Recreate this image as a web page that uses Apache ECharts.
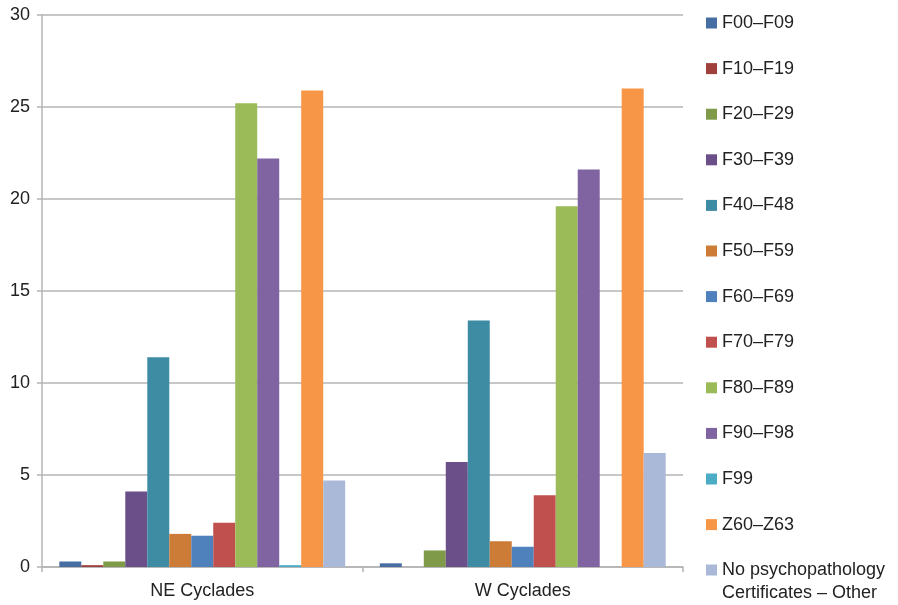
<!DOCTYPE html>
<html>
<head>
<meta charset="utf-8">
<script src="https://cdn.jsdelivr.net/npm/echarts@6/dist/echarts.min.js"></script>
<style>
  html, body { margin: 0; padding: 0; background: #fff; }
  #chart { width: 898px; height: 605px; }
</style>
</head>
<body>
<div id="chart"></div>
<script>
// Regions on the x axis
const regions = ['NE Cyclades', 'W Cyclades'];

// Diagnostic groups (legend order)
const groups = [
  'F00–F09', 'F10–F19', 'F20–F29', 'F30–F39', 'F40–F48', 'F50–F59',
  'F60–F69', 'F70–F79', 'F80–F89', 'F90–F98', 'F99', 'Z60–Z63',
  'No psychopathology Certificates – Other'
];

// Percentages per group: [NE Cyclades, W Cyclades]
const f00_f09 = [0.3, 0.2];
const f10_f19 = [0.1, 0.0];
const f20_f29 = [0.3, 0.9];
const f30_f39 = [4.1, 5.7];
const f40_f48 = [11.4, 13.4];
const f50_f59 = [1.8, 1.4];
const f60_f69 = [1.7, 1.1];
const f70_f79 = [2.4, 3.9];
const f80_f89 = [25.2, 19.6];
const f90_f98 = [22.2, 21.6];
const f99 = [0.1, 0.0];
const z60_z63 = [25.9, 26.0];
const noPsych = [4.7, 6.2];

const seriesValues = [
  f00_f09, f10_f19, f20_f29, f30_f39, f40_f48, f50_f59,
  f60_f69, f70_f79, f80_f89, f90_f98, f99, z60_z63, noPsych
];

// Y axis ticks
const yTicks = [0, 5, 10, 15, 20, 25, 30];

const colors = [
  '#466EA3', '#9F403D', '#7F9A48', '#6A4F89', '#3D8CA3', '#CD7C37',
  '#4F81BD', '#C0504D', '#9BBB59', '#8064A2', '#4BACC6', '#F79646',
  '#AAB9D7'
];

const FONT = '"Liberation Sans", Arial, Helvetica, sans-serif';
const gridGray = '#b4b4b4';

const chart = echarts.init(document.getElementById('chart'), null, { renderer: 'canvas' });

const series = groups.map((name, i) => ({
  name: name,
  type: 'bar',
  data: seriesValues[i],
  barGap: '0%',
  barCategoryGap: '10.8%',
  itemStyle: { color: colors[i] },
  emphasis: { disabled: true },
  animation: false
}));

const lastGroup = groups[groups.length - 1];
const legendText = { color: '#222', fontFamily: FONT, fontSize: 18, lineHeight: 23 };

chart.setOption({
  animation: false,
  color: colors,
  grid: { left: 42, right: 215, top: 15, bottom: 38, containLabel: false },
  xAxis: {
    type: 'category',
    data: regions,
    axisLine: { lineStyle: { color: gridGray, width: 1.5 } },
    axisTick: { show: true, length: 5, alignWithLabel: false, lineStyle: { color: gridGray, width: 1.5 } },
    axisLabel: { color: '#222', fontFamily: FONT, fontSize: 18, margin: 15 },
    splitLine: { show: false }
  },
  yAxis: {
    type: 'value',
    min: yTicks[0],
    max: yTicks[yTicks.length - 1],
    interval: yTicks[1] - yTicks[0],
    axisLine: { show: true, lineStyle: { color: gridGray, width: 1.5 } },
    axisTick: { show: true, length: 5, lineStyle: { color: gridGray, width: 1.5 } },
    axisLabel: { color: '#222', fontFamily: FONT, fontSize: 18, margin: 12 },
    splitLine: { show: true, lineStyle: { color: gridGray, width: 1.5 } }
  },
  legend: [
    {
      orient: 'vertical',
      left: 706,
      top: 11.5,
      padding: 0,
      itemWidth: 11,
      itemHeight: 11,
      itemGap: 22.6,
      icon: 'rect',
      selectedMode: false,
      data: groups.slice(0, groups.length - 1),
      textStyle: legendText
    },
    {
      // Two-line entry: the leading empty line keeps the first text line level with the swatch
      orient: 'vertical',
      left: 706,
      top: 535.5,
      padding: 0,
      itemWidth: 11,
      itemHeight: 11,
      icon: 'rect',
      selectedMode: false,
      data: [lastGroup],
      formatter: function () {
        return '\nNo psychopathology\nCertificates – Other';
      },
      textStyle: legendText
    }
  ],
  series: series
});
</script>
</body>
</html>
